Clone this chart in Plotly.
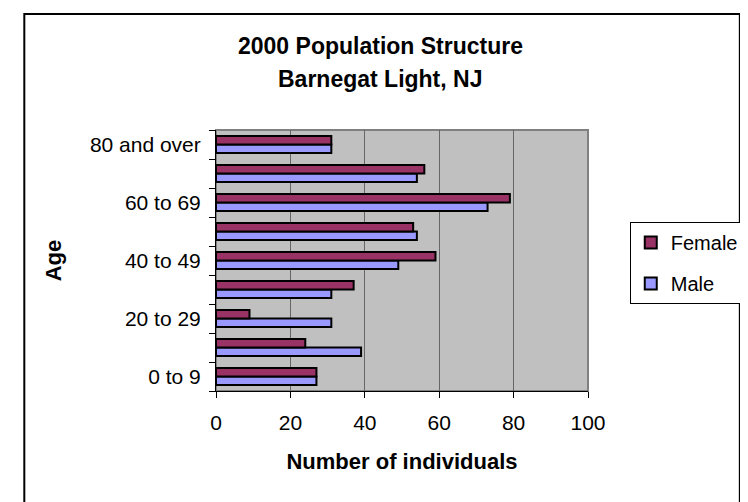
import plotly.graph_objects as go

# age groups, bottom to top
ages = ["0 to 9", "10 to 19", "20 to 29", "30 to 39", "40 to 49",
        "50 to 59", "60 to 69", "70 to 79", "80 and over"]
female = [27, 24, 9, 37, 59, 53, 79, 56, 31]
male = [27, 39, 31, 31, 49, 54, 73, 54, 31]

# only every other age group gets a label
age_labels = [a if i % 2 == 0 else "" for i, a in enumerate(ages)]
x_ticks = [0, 20, 40, 60, 80, 100]

FONT = "Liberation Sans, Arial, sans-serif"

fig = go.Figure()
# male first so it sits below female in each pair
fig.add_trace(go.Bar(
    y=ages, x=male, name="Male", orientation="h",
    marker=dict(color="#9999FF", line=dict(color="black", width=2)),
    legendgroup="m", legendrank=2,
))
fig.add_trace(go.Bar(
    y=ages, x=female, name="Female", orientation="h",
    marker=dict(color="#993366", line=dict(color="black", width=2)),
    legendgroup="f", legendrank=1,
))

# plot area: x 208..600, y 122..383 (pixels)
L, R, T, B = 208, 600, 122, 383
W, H = 748, 502
pw, ph = R - L, B - T


def px(x):
    return (x - L) / pw


def py(y):
    return (B - y) / ph


fig.update_layout(
    width=W, height=H,
    margin=dict(l=L, r=W - R, t=T, b=H - B),
    paper_bgcolor="white",
    plot_bgcolor="#C0C0C0",
    barmode="group",
    bargap=0.41,
    bargroupgap=0,
    font=dict(family=FONT, size=21, color="black"),
    showlegend=True,
    legend=dict(
        x=px(644), y=py(214), xanchor="left", yanchor="top",
        bordercolor="black", borderwidth=1, bgcolor="white",
        traceorder="grouped", tracegroupgap=12,
        font=dict(size=20),
    ),
    xaxis=dict(
        range=[0, 100], tickvals=x_ticks,
        showgrid=True, gridcolor="#666666", gridwidth=1,
        showline=True, linecolor="black", linewidth=1,
        ticks="outside", ticklen=6, tickcolor="black",
        ticklabelstandoff=7,
        zeroline=False,
        title=dict(text="<b>Number of individuals</b>", standoff=20,
                   font=dict(size=22)),
        fixedrange=True,
    ),
    yaxis=dict(
        type="category", categoryorder="array", categoryarray=ages,
        tickvals=ages, ticktext=age_labels,
        tickson="boundaries",
        showgrid=False,
        showline=True, linecolor="black", linewidth=1,
        ticks="outside", ticklen=6, tickcolor="black",
        ticklabelstandoff=10,
        title=dict(text="<b>Age</b>", standoff=22, font=dict(size=22)),
        fixedrange=True,
    ),
    annotations=[
        dict(text="<b>2000 Population Structure</b>", x=px(381), y=py(38),
             xref="paper", yref="paper", showarrow=False,
             xanchor="center", yanchor="middle", font=dict(size=23)),
        dict(text="<b>Barnegat Light, NJ</b>", x=px(381), y=py(71),
             xref="paper", yref="paper", showarrow=False,
             xanchor="center", yanchor="middle", font=dict(size=23)),
    ],
    shapes=[
        # plot area border (grey top/right)
        dict(type="rect", xref="paper", yref="paper", x0=0, x1=1, y0=0, y1=1,
             line=dict(color="#808080", width=2), layer="below"),
        # chart outer frame
        dict(type="rect", xref="paper", yref="paper",
             x0=px(6), x1=px(760), y0=py(520), y1=py(6),
             line=dict(color="black", width=2)),
    ],
)

fig.write_html("out.html")
